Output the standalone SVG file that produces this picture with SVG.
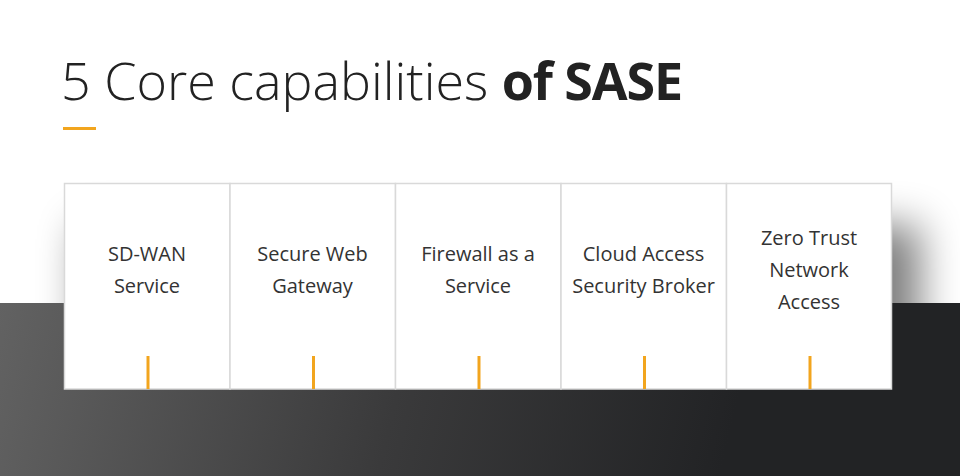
<svg xmlns="http://www.w3.org/2000/svg" width="960" height="476" viewBox="0 0 960 476">
<defs>
<linearGradient id="dark" x1="0" y1="303" x2="720" y2="476" gradientUnits="userSpaceOnUse">
<stop offset="0" stop-color="#626262"/>
<stop offset="0.55" stop-color="#3a3a3b"/>
<stop offset="1" stop-color="#222325"/>
</linearGradient>
<filter id="blur" x="-20%" y="-40%" width="140%" height="180%">
<feGaussianBlur stdDeviation="20"/>
</filter>
<style>
.title{font-family:"Open Sans","Noto Sans",sans-serif;font-size:52px;fill:#222;}
.lbl{font-family:"Open Sans","Noto Sans",sans-serif;font-size:20px;fill:#333;text-anchor:middle;}
.card{fill:#fff;stroke:#d9d9d9;stroke-width:1.5;}
.tick{stroke:#f2a51e;stroke-width:3;}
</style>
</defs>
<rect x="0" y="0" width="960" height="476" fill="#fff"/>
<rect x="80" y="225" width="840" height="150" fill="#000" opacity="0.5" filter="url(#blur)"/>
<rect x="0" y="303" width="960" height="173" fill="url(#dark)"/>
<text class="title" x="61" y="100"><tspan font-weight="300">5 Core capabilities </tspan><tspan font-weight="700" letter-spacing="-1.1">of SASE</tspan></text>
<rect x="63" y="127" width="33" height="3" fill="#f2a51e"/>
<g id="card1">
<rect class="card" x="64.5" y="183.5" width="165.5" height="205.5"/>
<text class="lbl" x="147" y="261">SD-WAN</text>
<text class="lbl" x="147" y="293">Service</text>
<line class="tick" x1="148" y1="356" x2="148" y2="389"/>
</g>
<g id="card2">
<rect class="card" x="230" y="183.5" width="165.5" height="205.5"/>
<text class="lbl" x="312.5" y="261">Secure Web</text>
<text class="lbl" x="312.5" y="293">Gateway</text>
<line class="tick" x1="313.5" y1="356" x2="313.5" y2="389"/>
</g>
<g id="card3">
<rect class="card" x="395.5" y="183.5" width="165.5" height="205.5"/>
<text class="lbl" x="478" y="261">Firewall as a</text>
<text class="lbl" x="478" y="293">Service</text>
<line class="tick" x1="479" y1="356" x2="479" y2="389"/>
</g>
<g id="card4">
<rect class="card" x="561" y="183.5" width="165.5" height="205.5"/>
<text class="lbl" x="643.5" y="261">Cloud Access</text>
<text class="lbl" x="643.5" y="293">Security Broker</text>
<line class="tick" x1="644.5" y1="356" x2="644.5" y2="389"/>
</g>
<g id="card5">
<rect class="card" x="726.5" y="183.5" width="165" height="205.5"/>
<text class="lbl" x="809" y="245">Zero Trust</text>
<text class="lbl" x="809" y="277">Network</text>
<text class="lbl" x="809" y="309">Access</text>
<line class="tick" x1="810" y1="356" x2="810" y2="389"/>
</g>
<g id="connectors"></g>
</svg>
